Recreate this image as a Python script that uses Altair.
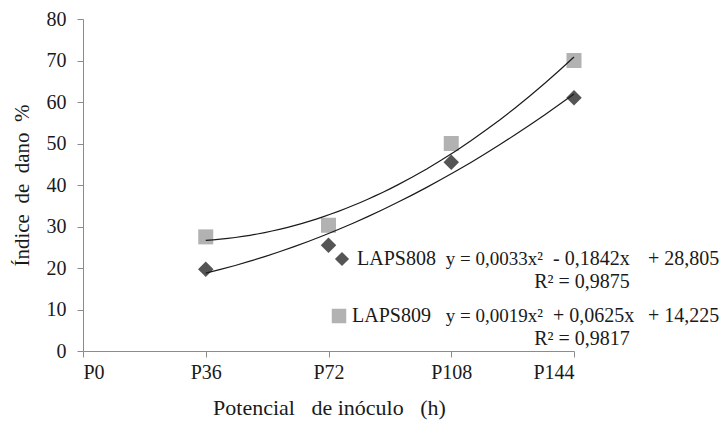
import altair as alt
import pandas as pd

# ---- data ----
tick_labels = ["P0", "P36", "P72", "P108", "P144"]
tick_hours = [0, 36, 72, 108, 144]
hours = [36, 72, 108, 144]
laps808 = [19.7, 25.5, 45.5, 61.0]
laps809 = [27.5, 30.3, 50.0, 70.0]

NB = "\u00a0"
leg808 = "LAPS808"
leg809 = "LAPS809"
eq808 = ["y = 0,0033x²", "- 0,1842x", "+ 28,805"]
r808 = "R² = 0,9875"
eq809 = ["y = 0,0019x²", "+ 0,0625x", "+ 14,225"]
r809 = "R² = 0,9817"
x_title = f"Potencial{NB*3}de inóculo{NB*3}(h)"
y_title = f"Índice{NB*2}de{NB*2}dano{NB*2}%"

FONT = "Liberation Serif"
SQ = "#b2b2b2"
DI = "#555555"
TXT = "#1a1a1a"

d808 = pd.DataFrame({"h": hours, "v": laps808})
d809 = pd.DataFrame({"h": hours, "v": laps809})

label_expr = " : ".join(
    f"datum.value == {h} ? '{l}'" for h, l in zip(tick_hours, tick_labels)
) + " : ''"

x = alt.X(
    "h:Q",
    scale=alt.Scale(domain=[0, 144], nice=False, zero=True),
    axis=alt.Axis(
        values=tick_hours, labelExpr=label_expr,
        title=x_title,
        grid=False, domainColor="#8c8c8c", tickColor="#8c8c8c", tickSize=6,
        labelFont=FONT, labelFontSize=20, labelColor=TXT, labelPadding=5,
        titleFont=FONT, titleFontSize=22, titleFontWeight="normal", titleColor=TXT,
        titleX=246, titleY=56, titleBaseline="middle", titleAlign="center",
    ),
)
y = alt.Y(
    "v:Q",
    scale=alt.Scale(domain=[0, 80], nice=False),
    axis=alt.Axis(
        values=list(range(0, 81, 10)),
        title=y_title,
        grid=False, domainColor="#8c8c8c", tickColor="#8c8c8c", tickSize=6,
        labelFont=FONT, labelFontSize=20, labelColor=TXT, labelPadding=11,
        titleFont=FONT, titleFontSize=21, titleFontWeight="normal", titleColor=TXT,
        titleX=-61, titleY=166, titleBaseline="middle", titleAlign="center", titleAngle=-90,
    ),
)

pts809 = alt.Chart(d809).mark_point(shape="square", filled=True, size=225, color=SQ, opacity=1).encode(x=x, y=y)
pts808 = alt.Chart(d808).mark_point(shape="diamond", filled=True, size=240, color=DI, opacity=1).encode(x=x, y=y)

fit809 = alt.Chart(d809).transform_regression("h", "v", method="poly", order=2, extent=[36, 144]).mark_line(
    color="#1a1a1a", strokeWidth=1.2).encode(x="h:Q", y="v:Q")
fit808 = alt.Chart(d808).transform_regression("h", "v", method="poly", order=2, extent=[36, 144]).mark_line(
    color="#1a1a1a", strokeWidth=1.2).encode(x="h:Q", y="v:Q")

one = pd.DataFrame({"a": [0]})


def txt(t, px, py, align="left", size=20):
    return alt.Chart(one).mark_text(
        text=t, align=align, baseline="middle", font=FONT, fontSize=size, color=TXT
    ).encode(x=alt.value(px), y=alt.value(py))


def sym(shape, color, px, py, size):
    return alt.Chart(one).mark_point(shape=shape, filled=True, size=size, color=color, opacity=1).encode(
        x=alt.value(px), y=alt.value(py))


legend = [
    sym("diamond", DI, 259, 240, 200),
    txt(leg808, 274, 240),
    txt(eq808[0], 460, 240, align="right", size=19),
    txt(eq808[1], 470, 240),
    txt(eq808[2], 565, 240),
    txt(r808, 499, 263, align="center"),
    sym("square", SQ, 256, 297, 210),
    txt(leg809, 269, 297),
    txt(eq809[0], 460, 297, align="right", size=19),
    txt(eq809[1], 470, 297),
    txt(eq809[2], 565, 297),
    txt(r809, 499, 320, align="center"),
]

chart = alt.layer(pts809, pts808, fit809, fit808, *legend).properties(
    width=491, height=332,
    autosize=alt.AutoSizeParams(type="none"),
    padding={"left": 83, "top": 19, "right": 146, "bottom": 70},
).configure_view(stroke=None)

chart.save("out.html", embed_options={"renderer": "svg", "actions": False})
